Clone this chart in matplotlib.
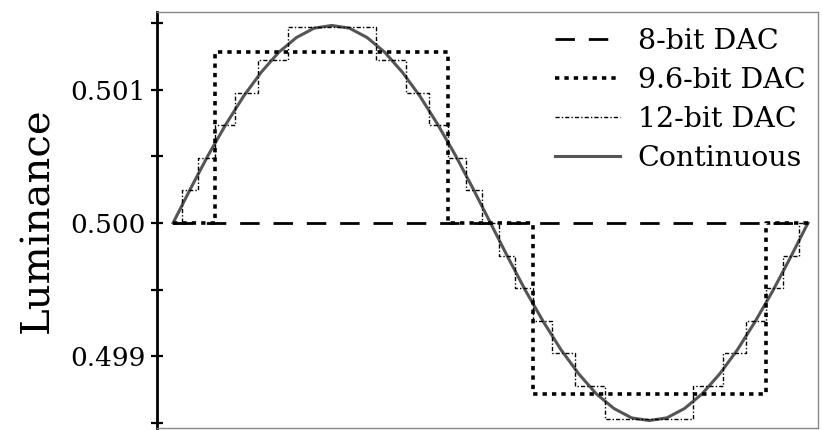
import matplotlib
matplotlib.use("Agg")
import matplotlib.pyplot as plt
from matplotlib.ticker import FixedLocator, FixedFormatter

# ---- data ----
# phase in degrees, continuous luminance
phase_cont = [0, 10, 20, 30, 40, 50, 60, 70, 80, 90, 100, 110, 120, 130, 140, 150, 160, 170,
              180, 190, 200, 210, 220, 230, 240, 250, 260, 270, 280, 290, 300, 310, 320, 330,
              340, 350, 360]
lum_cont = [0.50000, 0.50026, 0.50051, 0.50074, 0.50095, 0.50113, 0.50128, 0.50139, 0.50146,
            0.50148, 0.50146, 0.50139, 0.50128, 0.50113, 0.50095, 0.50074, 0.50051, 0.50026,
            0.50000, 0.49974, 0.49949, 0.49926, 0.49905, 0.49887, 0.49872, 0.49861, 0.49854,
            0.49852, 0.49854, 0.49861, 0.49872, 0.49887, 0.49905, 0.49926, 0.49949, 0.49974,
            0.50000]

# 12-bit DAC staircase: breakpoints and held levels
phase_12 = [0, 5, 14, 24, 35, 48, 65, 115, 132, 145, 156, 166, 175, 185, 194, 204, 215, 228,
            245, 295, 312, 325, 336, 346, 355, 360]
lum_12 = [0.500000, 0.500244, 0.500488, 0.500732, 0.500977, 0.501221, 0.501465, 0.501221,
          0.500977, 0.500732, 0.500488, 0.500244, 0.500000, 0.499756, 0.499512, 0.499268,
          0.499023, 0.498779, 0.498535, 0.498779, 0.499023, 0.499268, 0.499512, 0.499756,
          0.500000, 0.500000]

# 9.6-bit DAC staircase
phase_96 = [0, 24, 156, 204, 336, 360]
lum_96 = [0.50000, 0.50128, 0.50000, 0.49872, 0.50000, 0.50000]

# 8-bit DAC
phase_8 = [0, 360]
lum_8 = [0.50000, 0.50000]

labels = ["8-bit DAC", "9.6-bit DAC", "12-bit DAC", "Continuous"]
ytick_major = [0.499, 0.500, 0.501]
ytick_labels = ["0.499", "0.500", "0.501"]
ytick_minor = [0.4985, 0.4995, 0.5005, 0.5015]

plt.rcParams['font.family'] = ['DejaVu Serif']

fig = plt.figure(figsize=(8.22, 4.30), dpi=100)
ax = fig.add_axes([157/822, 1 - 428/430, (818 - 157)/822, (428 - 12)/430])

ax.plot(phase_8, lum_8, color='black', lw=2.0, linestyle=(0, (7, 5)), label=labels[0], zorder=3)
ax.plot(phase_96, lum_96, color='black', lw=2.6, linestyle=(0, (1.2, 1.4)),
        drawstyle='steps-post', label=labels[1], zorder=3)
ax.plot(phase_cont, lum_cont, color='#555555', lw=2.2, label=labels[3], zorder=2)
ax.plot(phase_12, lum_12, color='black', lw=1.0, linestyle=(0, (3, 1.5, 1, 1.5)),
        drawstyle='steps-post', label=labels[2], zorder=4)

ax.set_xlim(-9.1, 365.7)
ax.set_ylim(0.498464, 0.501581)

ax.yaxis.set_major_locator(FixedLocator(ytick_major))
ax.yaxis.set_major_formatter(FixedFormatter(ytick_labels))
ax.yaxis.set_minor_locator(FixedLocator(ytick_minor))
ax.tick_params(axis='y', which='both', direction='inout', length=9, width=1.6, labelsize=19, pad=4)
ax.set_xticks([])

for s in ['top', 'right', 'bottom']:
    ax.spines[s].set_color('#888888')
    ax.spines[s].set_linewidth(1.0)
ax.spines['left'].set_linewidth(2.0)

ax.set_ylabel("Luminance", fontsize=29, labelpad=10)

h, l = ax.get_legend_handles_labels()
hd = dict(zip(l, h))
ax.legend([hd[x] for x in labels], labels, loc='upper right', frameon=False,
          fontsize=20.5, handlelength=2.3, handletextpad=0.6, labelspacing=0.43,
          borderaxespad=0.0, bbox_to_anchor=(0.998, 0.99))

fig.savefig("out.png", dpi=100)
